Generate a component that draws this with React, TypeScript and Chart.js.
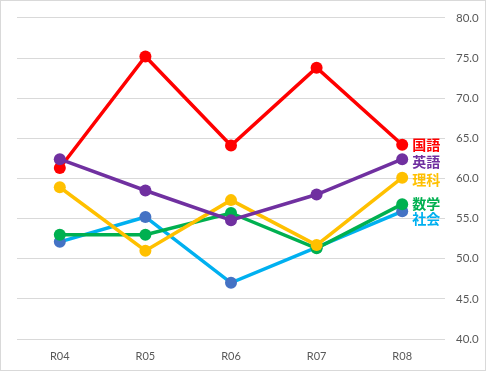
import React, { useEffect, useRef } from "react";
import { Chart, registerables } from "chart.js";

Chart.register(...registerables);

const categories = ["R04", "R05", "R06", "R07", "R08"];
const kokugo = [61.3, 75.2, 64.1, 73.8, 64.2];
const eigo = [62.4, 58.5, 54.8, 58.0, 62.4];
const rika = [58.9, 51.0, 57.3, 51.7, 60.1];
const sugaku = [53.0, 53.0, 55.7, 51.3, 56.8];
const shakai = [52.1, 55.2, 47.0, 51.4, 55.9];
const yTicks = [40, 45, 50, 55, 60, 65, 70, 75, 80];

type Series = { name: string; data: number[]; line: string; point: string; dy: number };

// listed top-most first (Chart.js draws dataset 0 last)
const series: Series[] = [
  { name: "英語", data: eigo, line: "#7030A0", point: "#7030A0", dy: 3 },
  { name: "理科", data: rika, line: "#FFC000", point: "#FFC000", dy: 2 },
  { name: "数学", data: sugaku, line: "#00B050", point: "#00B050", dy: 0 },
  { name: "社会", data: shakai, line: "#00B0F0", point: "#4472C4", dy: 7 },
  { name: "国語", data: kokugo, line: "#FF0000", point: "#FF0000", dy: 0 },
];

const endLabels = {
  id: "endLabels",
  afterDatasetsDraw(chart: any) {
    const ctx = chart.ctx;
    ctx.save();
    ctx.font = 'bold 14px "Noto Sans CJK JP"';
    ctx.textBaseline = "middle";
    ctx.textAlign = "left";
    series.forEach((s, i) => {
      const meta = chart.getDatasetMeta(i);
      const el = meta.data[meta.data.length - 1];
      ctx.fillStyle = s.line;
      ctx.fillText(s.name, el.x + 10, el.y + s.dy);
    });
    ctx.restore();
  },
};

const frame = {
  id: "frame",
  afterDraw(chart: any) {
    const ctx = chart.ctx;
    ctx.save();
    ctx.strokeStyle = "#d9d9d9";
    ctx.lineWidth = 1;
    ctx.strokeRect(0.5, 0.5, chart.width - 1, chart.height - 1);
    ctx.restore();
  },
};

export default function App() {
  const ref = useRef<HTMLCanvasElement>(null);
  useEffect(() => {
    if (!ref.current) return;
    const chart = new Chart(ref.current, {
      type: "line",
      data: {
        labels: categories,
        datasets: series.map((s) => ({
          label: s.name,
          data: s.data,
          borderColor: s.line,
          backgroundColor: s.point,
          pointBackgroundColor: s.point,
          pointBorderColor: s.point,
          pointBorderWidth: 0,
          pointRadius: 6,
          borderWidth: 3.5,
          tension: 0,
          fill: false,
        })),
      },
      options: {
        animation: false,
        responsive: false,
        maintainAspectRatio: false,
        layout: { padding: { left: 17, top: 15, right: 0, bottom: 0 } },
        plugins: { legend: { display: false }, tooltip: { enabled: false } },
        scales: {
          x: {
            offset: true,
            grid: { display: false, drawTicks: false },
            border: { display: false },
            ticks: { color: "#595959", font: { family: "Lato", size: 11 }, padding: 11 },
            afterFit: (s: any) => {
              s.height = 32;
            },
          },
          y: {
            position: "right",
            min: 40,
            max: 80,
            afterBuildTicks: (s: any) => {
              s.ticks = yTicks.map((v) => ({ value: v }));
            },
            grid: { color: "#d9d9d9", lineWidth: 1, drawTicks: false },
            border: { display: false },
            ticks: {
              color: "#595959",
              font: { family: "Lato", size: 11.5 },
              padding: 11,
              callback: (v: any) => Number(v).toFixed(1),
            },
            afterFit: (s: any) => {
              s.width = 41;
            },
          },
        },
      },
      plugins: [endLabels, frame],
    });
    return () => chart.destroy();
  }, []);
  return (
    <div style={{ position: "absolute", left: 0, top: 0, width: 486, height: 371, background: "#fff" }}>
      <canvas ref={ref} width={486} height={371} style={{ display: "block" }} />
    </div>
  );
}
